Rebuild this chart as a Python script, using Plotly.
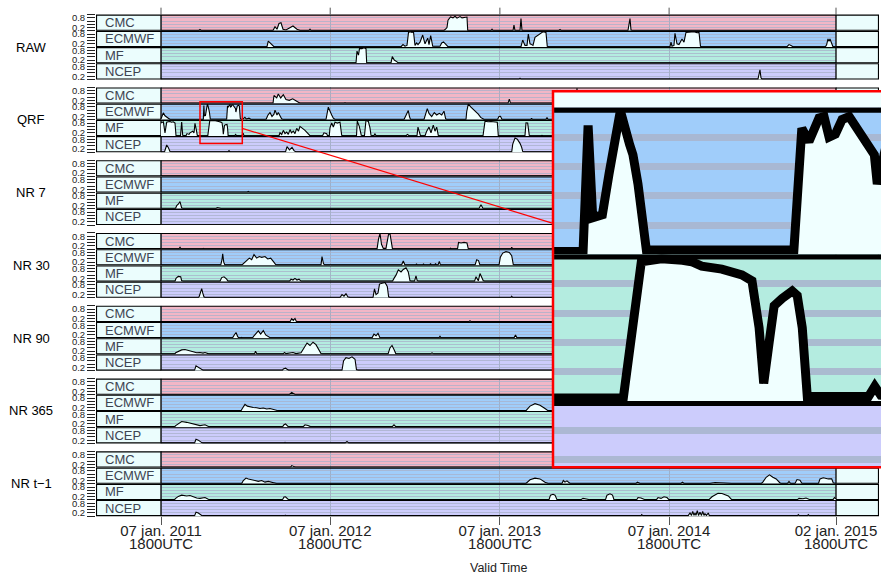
import numpy as np
import pandas as pd
import plotly.graph_objects as go

# ---------------- data ----------------
BASE = pd.Timestamp("2011-01-07 18:00")
GROUPS = ["RAW", "QRF", "NR 7", "NR 30", "NR 90", "NR 365", "NR t\u22121"]
MODELS = ["CMC", "ECMWF", "MF", "NCEP"]
MODEL_COLORS = ["#F2B6C6", "#A0CDFA", "#B4ECE0", "#CCCCFC"]
TICK_DAYS = [0, 365, 731, 1096, 1456]
TICK_LINE1 = ["07 jan. 2011", "07 jan. 2012", "07 jan. 2013", "07 jan. 2014", "02 jan. 2015"]
TICK_LINE2 = ["1800UTC"] * 5
Y_TICKS = [0, 0.2, 0.4, 0.6, 0.8, 1.0]
Y_TICKTEXT = ["", "0.2", "", "", "0.8", ""]

# (days since 07 jan. 2011 1800UTC, value)
RAW_CMC = [(0,.02),(82,.02),(84.1,.08),(86.3,.02),(241.6,.02),(245.9,.25),(250.2,.1),(254.5,.45),(258.8,.5),(263.2,.1),(269.6,.05),(278.3,.2),(284.7,.3),(293.3,.1),(299.8,.02),(319.2,.02),(321.4,.1),(323.5,.02),(610.4,.02),(613.7,.1),(616.9,.2),(619.1,.65),(624.5,.86),(629.8,.8),(634.2,.9),(638.5,.78),(645,.88),(649.3,.8),(655.8,.85),(660,.85),(661.6,.02),(711.8,.02),(714,.1),(716.1,.02),(759.3,.02),(761.4,.35),(763.6,.02),(774.4,.02),(776.5,.75),(778.7,.02),(858.5,.02),(860.7,.08),(862.8,.02),(1007.3,.02),(1009.5,.4),(1011.6,.75),(1013.8,.05),(1015.9,.02),(1456,.02)]
RAW_ECMWF = [(0,.02),(163.9,.02),(166.1,.06),(168.2,.02),(228.6,.02),(231.4,.37),(236.6,.2),(240.9,.1),(243.7,.02),(517.7,.02),(522,.15),(526.3,.05),(530.6,.1),(533.9,.9),(537.1,.94),(541.4,.9),(544.6,.94),(547.9,.1),(551.5,.25),(554.3,.15),(558.7,.3),(564.5,.74),(569.5,.2),(575.3,.55),(578.1,.15),(581.7,.7),(586.1,.05),(601.8,.05),(605.5,.25),(609.4,.32),(612.6,.2),(619.1,.02),(776.5,.02),(780.2,.43),(785.1,.1),(789.5,.1),(792.3,.8),(796,.2),(799.6,.15),(802.4,.1),(806.7,.6),(811.7,.7),(817.5,.85),(824.6,.95),(830.4,.9),(833.2,.05),(836.9,.02),(1097.9,.02),(1100.1,.3),(1102.2,.05),(1106.5,.1),(1108.7,.85),(1113,.2),(1117.3,.15),(1123.8,.5),(1128.1,.3),(1132.4,.9),(1141.1,.92),(1149.7,.95),(1156.2,.88),(1160.5,.9),(1163.7,.05),(1166.9,.02),(1350.3,.02),(1354.6,.15),(1358.9,.1),(1363.2,.02),(1433.3,.02),(1435.9,.15),(1438.7,.5),(1440.9,.35),(1443,.5),(1447.4,.15),(1449.5,.02),(1456,.02)]
RAW_MF = [(0,.02),(420.6,.02),(422.8,.75),(426,.5),(428.2,.92),(433.5,.9),(437.9,.95),(442.2,.9),(443.7,.02),(496.1,.02),(498.9,.41),(503.2,.2),(508.4,.1),(511.9,.02),(1456,.02)]
RAW_NCEP = [(0,.02),(772.2,.02),(774.4,.08),(776.5,.02),(1287.7,.02),(1289.9,.3),(1292,.6),(1294.2,.1),(1296.3,.02),(1456,.02)]

QRF_CMC = [(0,.02),(241.6,.02),(243.7,.5),(249.6,.35),(253,.59),(258.2,.35),(263.8,.55),(269.6,.25),(276.7,.2),(284.1,.3),(292.7,.15),(299.8,.02),(394.7,.02),(396.9,.05),(399,.02),(748.5,.02),(751.3,.28),(753.9,.02),(895.2,.02),(897.3,.95),(899.5,.02),(1456,.02)]
QRF_ECMWF = [(0,.05),(2.2,.3),(5,.43),(8.6,.25),(12.9,.15),(19.4,.02),(91.3,.02),(92.5,.88),(93.6,.25),(95.9,.27),(97.5,.55),(98.7,.72),(100.2,.98),(102.4,.75),(103.2,.68),(104.4,.48),(106.4,.03),(141.6,.03),(143.5,.86),(145.2,.77),(147.6,.93),(148.8,.94),(150,.8),(151.5,.82),(153.1,.92),(154.8,.94),(156.3,.87),(158,.8),(159.6,.72),(160.8,.68),(161.5,.48),(162.7,.63),(164.5,.85),(167,.9),(169,.85),(171,.1),(173,.02),(176,.02),(179,.12),(181,.15),(184,.05),(189.8,.1),(194,.02),(226.5,.02),(230.8,.3),(235.1,.45),(239.4,.2),(243.7,.35),(245.9,.6),(250.2,.3),(253,.45),(256.7,.2),(260.4,.05),(263.2,.02),(355.9,.02),(360.9,.78),(364.5,.5),(368.2,.3),(371.7,.1),(375.3,.02),(524.2,.02),(526.3,.15),(533.4,.57),(536,.2),(538.2,.02),(567.3,.02),(570.6,.3),(574.4,.69),(578.1,.4),(583.9,.2),(589.5,.45),(594.7,.3),(600.3,.4),(605.5,.3),(610.4,.53),(614.1,.05),(616.9,.02),(657.9,.02),(659.4,.5),(662.9,.98),(668,.8),(673.6,.65),(678.8,.5),(684.4,.35),(689.6,.15),(693.9,.05),(696.7,.02),(725.8,.02),(729.1,.2),(732.3,.22),(735.5,.02),(798.1,.02),(799.2,.1),(801.3,.02),(830.4,.02),(832.6,.15),(834.8,.02),(1456,.02)]
QRF_MF = [(0,.81),(5,.88),(8.6,.2),(12.3,.85),(15.7,.88),(19.4,.9),(22.6,.85),(26.5,.88),(30.2,.8),(32.4,.02),(42.1,.02),(44.6,.86),(46.8,.05),(53.9,.02),(56.1,.15),(60.4,.1),(62.6,.2),(68.4,.3),(71.2,.2),(73.3,.78),(76.1,.4),(78.3,.05),(80.9,.02),(100.9,.02),(105.2,.95),(110,.97),(115,.96),(117.2,.95),(119.6,.92),(124.4,.9),(129.2,.86),(131.6,.82),(133.3,.5),(134.4,.12),(135.7,.4),(136.9,.65),(138.8,.7),(141.2,.75),(142.4,.72),(143.6,.5),(144.8,.03),(159.4,.03),(160.9,.1),(162.3,.04),(174,.02),(176,.12),(177.5,.15),(179,.02),(254.5,.02),(256.7,.2),(260.4,.1),(263.8,.35),(267.5,.15),(271.1,.25),(274.6,.1),(278.3,.4),(281.5,.2),(285.4,.3),(289,.15),(292.7,.47),(296.6,.3),(299.8,.6),(310.6,.35),(321.4,.02),(348.4,.02),(351.6,.2),(357.4,.15),(359.1,.02),(363,.02),(364.5,.5),(368.2,.81),(371.7,.55),(375.3,.85),(380.3,.8),(386.1,.85),(389.8,.05),(392.6,.02),(421.7,.02),(423.4,.92),(427.7,.6),(432,.05),(438.9,.02),(442.2,.98),(447.2,.9),(450.8,.5),(453,.05),(459.4,.02),(461.6,.15),(463.7,.02),(528.5,.02),(531.7,.1),(535,.02),(552.2,.02),(554.3,.55),(557.6,.1),(559.7,.02),(569.5,.02),(573.1,.3),(578.1,.55),(582.4,.2),(587.3,.67),(591,.3),(594.7,.55),(598.1,.05),(600.7,.02),(694.6,.02),(698.9,.92),(705.4,.88),(711.8,.9),(720.4,.88),(725.4,.85),(727.6,.02),(785.1,.02),(787.3,.81),(790.9,.8),(794.4,.05),(797,.02),(819.7,.02),(821.8,.05),(824,.02),(1456,.02)]
QRF_NCEP = [(0,.02),(7.5,.02),(12.3,.45),(15.7,.3),(19.4,.05),(23.7,.02),(144.5,.02),(146.7,.1),(148.8,.02),(268.6,.02),(271.8,.35),(277.2,.15),(282.6,.3),(286.9,.1),(291.2,.02),(388.3,.02),(391.5,.05),(394.7,.02),(756.5,.02),(758.7,.5),(763.6,.88),(768.5,.8),(774.4,.55),(778,.3),(780.2,.05),(783,.02),(1456,.02)]

NR7_CMC = [(0,.02),(42.5,.02),(44.6,.05),(46.8,.02),(1456,.02)]
NR7_ECMWF = [(0,.02),(42.5,.02),(44.6,.06),(46.8,.02),(60.5,.02),(62.6,.05),(64.7,.02),(186.2,.02),(188.3,.07),(190.4,.02),(384,.02),(386.1,.04),(388.2,.02),(664.4,.02),(666.5,.05),(668.6,.02),(1456,.02)]
NR7_MF = [(0,.02),(31.3,.02),(33.9,.2),(37.7,.3),(41,.45),(44.6,.05),(47.5,.02),(118.6,.02),(121.9,.08),(126.2,.06),(129.4,.02),(686,.02),(690.2,.25),(694.6,.02),(1456,.02)]
NR7_NCEP = [(0,.02),(1456,.02)]

NR30_CMC = [(0,.02),(38.8,.02),(41,.12),(43.1,.02),(89.5,.02),(91.2,.05),(92.8,.02),(466,.02),(469.1,.6),(472.4,.98),(475.6,.3),(479.5,.05),(485.3,.05),(490.7,.9),(494,.95),(497.2,.2),(499.3,.02),(622.3,.02),(624.5,.06),(626.6,.02),(639.6,.02),(641.8,.42),(647.2,.38),(653.6,.42),(660,.38),(662.9,.02),(755,.02),(756.5,.12),(758.3,.02),(1456,.02)]
NR30_ECMWF = [(0,.02),(93.8,.02),(94.9,.05),(96,.02),(128.8,.02),(131.6,.35),(133.1,.71),(135.3,.2),(138,.02),(174.1,.02),(177.5,.1),(184.9,.3),(190.5,.45),(195.6,.35),(200.6,.67),(206.4,.45),(212,.55),(217.2,.5),(224.3,.55),(230.2,.4),(236.6,.45),(242.2,.25),(247.4,.05),(250.2,.02),(345.1,.02),(347.3,.55),(350.5,.1),(353.7,.02),(518.8,.02),(522.6,.27),(526.3,.02),(550,.02),(551.1,.1),(553.2,.02),(565.1,.02),(566.2,.1),(568.4,.02),(580.2,.02),(581.3,.12),(583.5,.02),(591,.02),(592.1,.12),(594.3,.02),(597.5,.02),(600.3,.25),(602.9,.02),(677.3,.02),(681,.35),(684.9,.3),(688.1,.02),(729.1,.02),(731.9,.5),(737.1,.76),(744.2,.85),(751.3,.8),(756.5,.6),(759.9,.05),(762.5,.02),(1456,.02)]
NR30_MF = [(0,.02),(30.2,.02),(32.4,.2),(37.3,.32),(42.5,.3),(44.6,.05),(47.5,.02),(127.3,.02),(130.9,.25),(135.9,.3),(141.7,.15),(144.5,.02),(277.2,.02),(280.4,.15),(284.7,.1),(289,.2),(293.3,.1),(297.7,.15),(302,.02),(499.3,.02),(502.6,.2),(506.9,.4),(511.9,.73),(517.7,.6),(522.6,.75),(528.5,.86),(533.4,.6),(537.1,.05),(539.3,.02),(546.8,.02),(550,.35),(552.8,.05),(555.4,.02),(676.2,.02),(679.5,.3),(682.7,.1),(684.4,.05),(688.1,.5),(691.7,.2),(695.2,.05),(697.8,.02),(1456,.02)]
NR30_NCEP = [(0,.02),(80.9,.02),(82.6,.1),(87.8,.57),(90,.3),(92.8,.05),(94.9,.02),(386.1,.02),(390.4,.2),(394.7,.1),(399,.25),(403.3,.05),(407.7,.02),(457.3,.02),(460.5,.55),(463.8,.2),(468.1,.3),(471.3,.85),(476.7,.9),(483.2,.95),(488.1,.7),(491.1,.05),(494,.02),(755,.02),(756.5,.1),(758.3,.02),(1456,.02)]

NR90_CMC = [(0,.02),(42.1,.02),(44.6,.06),(47.5,.02),(82,.02),(84.1,.05),(86.3,.02),(243.7,.02),(245.9,.06),(248,.02),(278.3,.02),(281.9,.2),(285.4,.1),(289,.22),(292.2,.02),(664.4,.02),(666.5,.08),(668.6,.02),(1456,.02)]
NR90_ECMWF = [(0,.02),(43.1,.02),(44.6,.05),(47.5,.02),(90.6,.02),(91.2,.05),(92.8,.02),(154.2,.02),(158.1,.2),(161.8,.35),(165.4,.1),(168.2,.02),(172.6,.02),(174.1,.05),(175.8,.02),(197.4,.02),(200.6,.15),(206.4,.3),(209.9,.45),(215,.25),(220.7,.47),(225.8,.2),(231.4,.1),(236.2,.02),(455.1,.02),(459.4,.25),(463.8,.15),(468.1,.3),(472.4,.02),(599.6,.02),(601.8,.12),(603.9,.02),(761.4,.02),(764.7,.2),(767.9,.02),(1456,.02)]
NR90_MF = [(0,.02),(29.1,.02),(31.7,.1),(37.3,.2),(44.6,.28),(51.8,.3),(58.9,.25),(66.2,.22),(73.3,.15),(77,.1),(84.1,.12),(90.6,.08),(94.9,.12),(102,.05),(104.6,.02),(201.7,.02),(203.8,.2),(206.4,.05),(208.2,.02),(263.2,.02),(266.4,.12),(269.6,.05),(278.3,.08),(284.7,.12),(291.2,.05),(297.7,.1),(302,.1),(308.4,.4),(315,.7),(321.4,.55),(327.9,.75),(334.3,.6),(340.8,.3),(345.1,.05),(348.4,.02),(489.6,.02),(493.9,.4),(498.3,.55),(502.6,.3),(506.9,.02),(580.2,.02),(584.6,.1),(588.9,.02),(1456,.02)]
NR90_NCEP = [(0,.02),(72.3,.02),(75.5,.3),(80.5,.2),(87.8,.05),(90.6,.02),(262.1,.02),(263.8,.1),(268.6,.15),(272.5,.05),(275,.02),(390.4,.02),(393.7,.6),(399,.8),(405.5,.75),(412,.85),(418.5,.7),(421.7,.05),(425,.02),(1456,.02)]

NR365_CMC = [(0,.02),(42.5,.02),(44.6,.05),(46.8,.02),(82,.02),(84.1,.05),(86.3,.02),(243.7,.02),(245.9,.05),(248,.02),(277.2,.02),(281.9,.15),(285.8,.08),(289,.02),(1456,.02)]
NR365_ECMWF = [(0,.02),(93.8,.02),(94.9,.05),(96,.02),(172.6,.02),(175.4,.15),(181.2,.41),(186.1,.3),(192,.25),(199.1,.22),(206.4,.2),(213.5,.15),(220.7,.18),(228,.12),(235.1,.15),(242.2,.1),(249.6,.05),(252.4,.02),(787.3,.02),(796,.3),(806.7,.45),(817.5,.35),(828.3,.15),(834.8,.02),(1456,.02)]
NR365_MF = [(0,.02),(29.1,.02),(31.7,.1),(37.3,.2),(44.6,.35),(55.4,.3),(62.6,.25),(69.8,.2),(77,.12),(84.1,.1),(94.9,.15),(102,.05),(104.6,.02),(262.1,.02),(265.3,.15),(268.6,.2),(272.5,.05),(275,.02),(306.3,.02),(310.6,.15),(317.1,.1),(323.6,.02),(498.3,.02),(502.6,.15),(506.9,.02),(1456,.02)]
NR365_NCEP = [(0,.02),(72.3,.02),(75.5,.26),(80.5,.2),(87.8,.05),(90.6,.02),(266.4,.02),(267.5,.06),(268.6,.02),(396.9,.02),(401.2,.12),(405.5,.02),(1456,.02)]

NRT1_CMC = [(0,.02),(42.5,.02),(44.6,.05),(46.8,.02),(243.7,.02),(245.9,.05),(248,.02),(279.7,.02),(281.9,.12),(286.9,.05),(290,.02),(1456,.02)]
NRT1_ECMWF = [(0,.02),(93.8,.02),(94.9,.05),(96,.02),(174.1,.02),(177.5,.2),(183.4,.35),(188.3,.3),(195.6,.25),(202.8,.2),(209.9,.15),(217.2,.2),(224.3,.1),(231.4,.15),(238.8,.1),(245.9,.05),(249.1,.02),(787.3,.02),(796,.25),(806.7,.35),(817.5,.3),(828.3,.1),(834.8,.02),(865,.02),(867.8,.2),(871.4,.1),(875.7,.18),(882.2,.02),(1024.6,.02),(1027.8,.1),(1033.2,.02),(1121.6,.02),(1124.8,.1),(1128.1,.02),(1184.2,.02),(1195,.08),(1210.1,.06),(1231,.02),(1295.3,.02),(1298.1,.1),(1305.4,.4),(1312.5,.55),(1319.7,.4),(1327,.3),(1335.2,.05),(1337.3,.02),(1351.4,.02),(1354.6,.15),(1357.9,.02),(1367.6,.02),(1371.9,.26),(1378.3,.22),(1382.6,.02),(1418.2,.02),(1421.5,.3),(1428.6,.37),(1439.4,.3),(1446.7,.3),(1450.2,.05),(1456,.02)]
NRT1_MF = [(0,.02),(29.1,.02),(31.7,.1),(37.3,.22),(44.6,.3),(55.4,.25),(62.6,.28),(69.8,.2),(77,.12),(84.1,.1),(94.9,.15),(102,.05),(104.6,.02),(262.1,.02),(265.3,.18),(268.6,.2),(272.5,.05),(275,.02),(836.9,.02),(840.2,.3),(845.6,.35),(849.9,.3),(854.2,.02),(905.9,.02),(910.3,.1),(916.7,.08),(925.4,.02),(958.8,.02),(962,.3),(968.5,.38),(973.9,.3),(977.1,.02),(1026.1,.02),(1028.9,.15),(1035.4,.12),(1044,.02),(1068.8,.02),(1072.1,.15),(1078.5,.1),(1085,.2),(1091.4,.15),(1095.7,.02),(1182,.02),(1188.5,.2),(1195,.3),(1201.5,.42),(1210.1,.4),(1216.6,.35),(1223.7,.25),(1231,.02),(1269.4,.02),(1270.5,.05),(1272.6,.02),(1372.9,.02),(1376.2,.1),(1384.8,.08),(1391.3,.12),(1399.9,.02),(1449.5,.02),(1452.7,.15),(1456,.05)]
NRT1_NCEP = [(0,.02),(72.3,.02),(75.5,.25),(80.5,.2),(87.8,.05),(90.6,.02),(266.4,.02),(268,.06),(269.6,.02),(955.6,.02),(957.8,.05),(959.9,.02),(1035.4,.02),(1036.9,.1),(1039.7,.02),(1136.8,.02),(1141.1,.2),(1144.3,.05),(1146.9,.3),(1149.7,.05),(1151.9,.2),(1154,.05),(1156.8,.35),(1159.4,.05),(1162.6,.25),(1165.9,.05),(1168.4,.3),(1171.2,.05),(1173.3,.15),(1176.6,.05),(1180.5,.2),(1183,.02),(1372.9,.02),(1374.7,.1),(1377.2,.02),(1394.5,.02),(1396.2,.1),(1398.8,.02),(1456,.02)]

SERIES = [
    [RAW_CMC, RAW_ECMWF, RAW_MF, RAW_NCEP],
    [QRF_CMC, QRF_ECMWF, QRF_MF, QRF_NCEP],
    [NR7_CMC, NR7_ECMWF, NR7_MF, NR7_NCEP],
    [NR30_CMC, NR30_ECMWF, NR30_MF, NR30_NCEP],
    [NR90_CMC, NR90_ECMWF, NR90_MF, NR90_NCEP],
    [NR365_CMC, NR365_ECMWF, NR365_MF, NR365_NCEP],
    [NRT1_CMC, NRT1_ECMWF, NRT1_MF, NRT1_NCEP],
]
ZOOM_GROUP = 1  # QRF is magnified in the inset

# ---------------- layout geometry (pixels) ----------------
W, H = 881, 574
FRAME_L, FRAME_R = 96, 879
DATA_L, DATA_R = 161, 836
DPP = TICK_DAYS[-1] / (DATA_R - DATA_L)
DAY_L = -(DATA_L - FRAME_L) * DPP
DAY_R = TICK_DAYS[-1] + (FRAME_R - DATA_R) * DPP
G_TOP, G_PITCH, S_H = 12.7, 73.3, 16.33

ZF = 9.04                        # magnification
RECT_X0, RECT_Y0 = 200.0, 100.5  # zoom window top-left in main chart
RECT_X1, RECT_Y1 = 242.3, 142.4
IN_L, IN_T, IN_B = 553.0, 90.0, 468.5

FILL = "#F0FFFF"
LABEL_BG = "#EBFDFD"
GRID = "rgba(168,176,202,0.75)"
VGRID = "rgba(150,165,185,0.7)"
FONT = "Liberation Sans, Arial, Helvetica, sans-serif"


def ts(d):
    return (BASE + pd.Timedelta(days=float(d))).round("s").strftime("%Y-%m-%d %H:%M:%S")


def py(px):
    return 1 - px / H


def pxx(px):
    return px / W


fig = go.Figure()
layout = dict(width=W, height=H, margin=dict(l=0, r=0, t=0, b=0),
              paper_bgcolor="white", plot_bgcolor="rgba(0,0,0,0)",
              showlegend=False, hovermode=False,
              font=dict(family=FONT, color="#222"))
shapes, annotations = [], []

n = 0
strip_px = {}
for g, gname in enumerate(GROUPS):
    top = G_TOP + g * G_PITCH
    annotations.append(dict(text=gname, x=pxx(31), y=py(top + 2 * S_H), xref="paper", yref="paper",
                            showarrow=False, xanchor="center", yanchor="middle",
                            font=dict(size=13, color="black", family=FONT)))
    for m, model in enumerate(MODELS):
        n += 1
        yname = "y" if n == 1 else f"y{n}"
        key = "yaxis" if n == 1 else f"yaxis{n}"
        t0 = top + m * S_H
        b0 = t0 + S_H
        strip_px[(g, m)] = (t0, b0)
        layout[key] = dict(domain=[py(b0), py(t0)], range=[0, 1], anchor="x",
                           tickmode="array", tickvals=Y_TICKS, ticktext=Y_TICKTEXT,
                           ticks="outside", ticklen=8, tickwidth=1, tickcolor="#222",
                           tickfont=dict(size=9.5, color="#222", family=FONT),
                           showgrid=True, gridcolor=GRID, gridwidth=1,
                           zeroline=False, showline=False, fixedrange=True)
        pts = sorted(SERIES[g][m])
        days = [p[0] for p in pts]
        vals = [p[1] for p in pts]
        fig.add_trace(go.Scatter(x=[ts(d) for d in days], y=vals, xaxis="x", yaxis=yname,
                                 mode="lines", line=dict(color="black", width=1.1),
                                 fill="tozeroy", fillcolor=FILL, hoverinfo="skip"))
        # strip background
        shapes.append(dict(type="rect", xref="x", yref=yname, x0=ts(0), x1=ts(TICK_DAYS[-1]),
                           y0=0, y1=1, fillcolor=MODEL_COLORS[m], line=dict(width=0), layer="below"))
        # label box and right box
        shapes.append(dict(type="rect", xref="x", yref=yname, x0=ts(DAY_L), x1=ts(0),
                           y0=0, y1=1, fillcolor=LABEL_BG, line=dict(width=0), layer="between"))
        shapes.append(dict(type="rect", xref="x", yref=yname, x0=ts(TICK_DAYS[-1]), x1=ts(DAY_R),
                           y0=0, y1=1, fillcolor=LABEL_BG, line=dict(width=0), layer="between"))
        for d in (0, TICK_DAYS[-1]):
            shapes.append(dict(type="line", xref="x", yref=yname, x0=ts(d), x1=ts(d), y0=0, y1=1,
                               line=dict(color="black", width=1.3), layer="between"))
        shapes.append(dict(type="rect", xref="x", yref=yname, x0=ts(DAY_L), x1=ts(DAY_R),
                           y0=0, y1=1, fillcolor="rgba(0,0,0,0)",
                           line=dict(color="black", width=2.2), layer="between"))
        annotations.append(dict(text=model, xref="x", yref=yname, x=ts(DAY_L + 7 * DPP), y=0.5,
                                xanchor="left", yanchor="middle", showarrow=False,
                                font=dict(size=13, color="#3D4452", family=FONT)))

last_y = f"y{n}"
bottom_px = strip_px[(len(GROUPS) - 1, 3)][1]
top_px = strip_px[(0, 0)][0]
xr = [ts(DAY_L), ts(DAY_R)]
tickvals = [ts(d) for d in TICK_DAYS]
layout["xaxis"] = dict(type="date", domain=[pxx(FRAME_L), pxx(FRAME_R)], range=xr, anchor=last_y,
                       tickmode="array", tickvals=tickvals, ticktext=TICK_LINE1,
                       ticks="outside", ticklen=8, tickcolor="#555", ticklabelstandoff=-7,
                       tickfont=dict(size=15, color="#222", family=FONT),
                       showgrid=True, gridcolor=VGRID, gridwidth=1,
                       zeroline=False, showline=False, fixedrange=True)
# second line of the time labels and the ticks along the top edge
for d, txt in zip(TICK_DAYS, TICK_LINE2):
    annotations.append(dict(text=txt, xref="x", yref="paper", x=ts(d), y=py(545.5),
                            xanchor="center", yanchor="middle", showarrow=False,
                            font=dict(size=15, color="#222", family=FONT)))
    shapes.append(dict(type="line", xref="x", yref="paper", x0=ts(d), x1=ts(d),
                       y0=py(top_px), y1=py(top_px - 7), line=dict(color="#555", width=1),
                       layer="above"))

annotations.append(dict(text="Valid Time", xref="paper", yref="paper",
                        x=pxx((DATA_L + DATA_R) / 2), y=py(569.5), showarrow=False,
                        xanchor="center", yanchor="middle",
                        font=dict(size=12.5, color="#222", family=FONT)))

# ---------------- inset (magnified QRF window) ----------------
in_d0 = (RECT_X0 - DATA_L) * DPP
in_d1 = (RECT_X0 + (W - IN_L) / ZF - DATA_L) * DPP
layout["xaxis2"] = dict(type="date", domain=[pxx(IN_L), 1.0], range=[ts(in_d0), ts(in_d1)],
                        anchor=f"y{n + 4}", visible=False, fixedrange=True)
for m, model in enumerate(MODELS):
    k = n + 1 + m
    yname = f"y{k}"
    t0, b0 = strip_px[(ZOOM_GROUP, m)]
    it = IN_T + (t0 - RECT_Y0) * ZF
    ib = IN_T + (b0 - RECT_Y0) * ZF
    ct, cb = max(it, IN_T), min(ib, IN_B)
    v_hi = (ib - ct) / (ib - it)
    v_lo = (ib - cb) / (ib - it)
    layout[f"yaxis{k}"] = dict(domain=[py(cb), py(ct)], range=[v_lo, v_hi], anchor="x2",
                               tickmode="array", tickvals=[0.2, 0.4, 0.6, 0.8],
                               showticklabels=False, ticks="", showgrid=True,
                               gridcolor="rgba(168,182,206,0.9)", gridwidth=7,
                               zeroline=False, showline=False, fixedrange=True)
    pts = sorted(SERIES[ZOOM_GROUP][m])
    fig.add_trace(go.Scatter(x=[ts(p[0]) for p in pts], y=[p[1] for p in pts],
                             xaxis="x2", yaxis=yname, mode="lines",
                             line=dict(color="black", width=9), fill="tozeroy",
                             fillcolor=FILL, hoverinfo="skip"))
    shapes.append(dict(type="rect", xref="x2", yref=yname, x0=ts(in_d0 - 5), x1=ts(in_d1 + 5),
                       y0=v_lo - 0.2, y1=v_hi + 0.2, fillcolor=MODEL_COLORS[m],
                       line=dict(width=0), layer="below"))
    for edge in (0.0, 1.0):
        if v_lo - 1e-9 <= edge <= v_hi + 1e-9:
            shapes.append(dict(type="line", xref="x2", yref=yname, x0=ts(in_d0 - 5), x1=ts(in_d1 + 5),
                               y0=edge, y1=edge, line=dict(color="black", width=10), layer="between"))

# red zoom window, inset frame and connector
RED = "#FF0000"
shapes.append(dict(type="rect", xref="paper", yref="paper", x0=pxx(RECT_X0), x1=pxx(RECT_X1),
                   y0=py(RECT_Y1), y1=py(RECT_Y0), line=dict(color=RED, width=1.5),
                   fillcolor="rgba(0,0,0,0)", layer="above"))
shapes.append(dict(type="rect", xref="paper", yref="paper", x0=pxx(IN_L), x1=pxx(W + 20),
                   y0=py(IN_B), y1=py(IN_T), line=dict(color=RED, width=2.5),
                   fillcolor="rgba(0,0,0,0)", layer="above"))
shapes.append(dict(type="line", xref="paper", yref="paper", x0=pxx(RECT_X1), y0=py(127.3),
                   x1=pxx(IN_L), y1=py(222.9), line=dict(color=RED, width=1.2), layer="above"))

layout["shapes"] = shapes
layout["annotations"] = annotations
fig.update_layout(**layout)
fig.write_html("out.html")
